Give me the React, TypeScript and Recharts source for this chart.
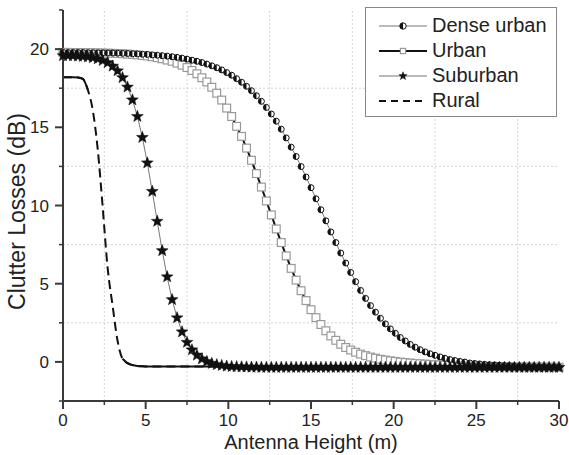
import React from 'react';
import { LineChart, Line, XAxis, YAxis, ReferenceLine, Label } from 'recharts';

const heights = [
  0, 0.3, 0.6, 0.9, 1.2, 1.5, 1.8, 2.1, 2.4, 2.7,
  3, 3.3, 3.6, 3.9, 4.2, 4.5, 4.8, 5.1, 5.4, 5.7,
  6, 6.3, 6.6, 6.9, 7.2, 7.5, 7.8, 8.1, 8.4, 8.7,
  9, 9.3, 9.6, 9.9, 10.2, 10.5, 10.8, 11.1, 11.4, 11.7,
  12, 12.3, 12.6, 12.9, 13.2, 13.5, 13.8, 14.1, 14.4, 14.7,
  15, 15.3, 15.6, 15.9, 16.2, 16.5, 16.8, 17.1, 17.4, 17.7,
  18, 18.3, 18.6, 18.9, 19.2, 19.5, 19.8, 20.1, 20.4, 20.7,
  21, 21.3, 21.6, 21.9, 22.2, 22.5, 22.8, 23.1, 23.4, 23.7,
  24, 24.3, 24.6, 24.9, 25.2, 25.5, 25.8, 26.1, 26.4, 26.7,
  27, 27.3, 27.6, 27.9, 28.2, 28.5, 28.8, 29.1, 29.4, 29.7,
  30,
];

const denseUrban = [
  19.79, 19.78, 19.78, 19.78, 19.78, 19.77, 19.77, 19.76, 19.76, 19.75,
  19.75, 19.74, 19.73, 19.72, 19.7, 19.69, 19.67, 19.66, 19.63, 19.61,
  19.58, 19.55, 19.51, 19.47, 19.42, 19.36, 19.29, 19.22, 19.14, 19.04,
  18.93, 18.81, 18.67, 18.5, 18.33, 18.11, 17.88, 17.62, 17.34, 17.02,
  16.66, 16.27, 15.85, 15.39, 14.88, 14.32, 13.73, 13.13, 12.49, 11.82,
  11.14, 10.43, 9.73, 9.02, 8.31, 7.63, 6.96, 6.32, 5.72, 5.13,
  4.57, 4.06, 3.6, 3.18, 2.79, 2.43, 2.11, 1.83, 1.56, 1.34,
  1.12, 0.94, 0.78, 0.64, 0.52, 0.42, 0.32, 0.23, 0.15, 0.09,
  0.03, -0.01, -0.07, -0.1, -0.13, -0.16, -0.18, -0.2, -0.22, -0.24,
  -0.25, -0.27, -0.28, -0.29, -0.3, -0.3, -0.31, -0.31, -0.32, -0.32,
  -0.33,
];

const urban = [
  19.79, 19.79, 19.78, 19.78, 19.78, 19.77, 19.77, 19.76, 19.75, 19.74,
  19.73, 19.72, 19.7, 19.68, 19.66, 19.63, 19.59, 19.56, 19.51, 19.45,
  19.38, 19.3, 19.22, 19.1, 18.97, 18.82, 18.63, 18.42, 18.17, 17.9,
  17.56, 17.18, 16.74, 16.23, 15.69, 15.06, 14.42, 13.67, 12.89, 12.04,
  11.18, 10.29, 9.4, 8.5, 7.63, 6.78, 5.98, 5.23, 4.55, 3.92,
  3.34, 2.83, 2.39, 1.99, 1.66, 1.38, 1.13, 0.92, 0.76, 0.62,
  0.5, 0.4, 0.31, 0.24, 0.17, 0.12, 0.07, 0.03, -0.01, -0.04,
  -0.07, -0.1, -0.12, -0.14, -0.16, -0.18, -0.19, -0.21, -0.22, -0.23,
  -0.24, -0.25, -0.26, -0.27, -0.28, -0.29, -0.29, -0.3, -0.3, -0.31,
  -0.31, -0.32, -0.32, -0.32, -0.33, -0.33, -0.33, -0.33, -0.34, -0.34,
  -0.34,
];

const suburban = [
  19.58, 19.58, 19.57, 19.55, 19.53, 19.5, 19.45, 19.38, 19.27, 19.13,
  18.91, 18.61, 18.17, 17.57, 16.75, 15.69, 14.35, 12.72, 10.9, 8.99,
  7.11, 5.44, 3.98, 2.82, 1.92, 1.25, 0.77, 0.43, 0.19, 0.02,
  -0.1, -0.18, -0.23, -0.27, -0.3, -0.31, -0.32, -0.33, -0.34, -0.34,
  -0.35, -0.35, -0.35, -0.35, -0.35, -0.35, -0.35, -0.35, -0.35, -0.35,
  -0.35, -0.35, -0.35, -0.35, -0.35, -0.35, -0.35, -0.35, -0.35, -0.35,
  -0.35, -0.35, -0.35, -0.35, -0.35, -0.35, -0.35, -0.35, -0.35, -0.35,
  -0.35, -0.35, -0.35, -0.35, -0.35, -0.35, -0.35, -0.35, -0.35, -0.35,
  -0.35, -0.35, -0.35, -0.35, -0.35, -0.35, -0.35, -0.35, -0.35, -0.35,
  -0.35, -0.35, -0.35, -0.35, -0.35, -0.35, -0.35, -0.35, -0.35, -0.35,
  -0.35,
];

const rural = [
  18.2, 18.2, 18.2, 18.19, 18.1, 17.4, 16.1, 13.6, 9.9, 6.0,
  3.6, 1.35, 0.2, -0.08, -0.2, -0.26, -0.28, -0.29, -0.3, -0.3,
  -0.3, -0.3, -0.3, -0.3, -0.3, -0.3, -0.3, -0.3, -0.3, -0.3,
  -0.3, -0.3, -0.3, -0.3, -0.3, -0.3, -0.3, -0.3, -0.3, -0.3,
  -0.3, -0.3, -0.3, -0.3, -0.3, -0.3, -0.3, -0.3, -0.3, -0.3,
  -0.3, -0.3, -0.3, -0.3, -0.3, -0.3, -0.3, -0.3, -0.3, -0.3,
  -0.3, -0.3, -0.3, -0.3, -0.3, -0.3, -0.3, -0.3, -0.3, -0.3,
  -0.3, -0.3, -0.3, -0.3, -0.3, -0.3, -0.3, -0.3, -0.3, -0.3,
  -0.3, -0.3, -0.3, -0.3, -0.3, -0.3, -0.3, -0.3, -0.3, -0.3,
  -0.3, -0.3, -0.3, -0.3, -0.3, -0.3, -0.3, -0.3, -0.3, -0.3,
  -0.3,
];

// where the rural curve looks solid rather than dashed
const ruralSolidBefore = 1.5;
const ruralSolidAfter = 3.6;

const xTicks = [0, 2.5, 5, 7.5, 10, 12.5, 15, 17.5, 20, 22.5, 25, 27.5, 30];
const yTicks = [-2.5, 0, 2.5, 5, 7.5, 10, 12.5, 15, 17.5, 20, 22.5];
const gridX = [2.5, 7.5, 12.5, 17.5, 22.5, 27.5];
const gridY = [2.5, 7.5, 12.5, 17.5];

const seriesNames = ['Dense urban', 'Urban', 'Suburban', 'Rural'];

const FONT = '"Liberation Sans", Arial, sans-serif';
const AXIS = '#3a3a3a';

const data = heights.map((h, i) => ({
  h,
  dense: denseUrban[i],
  urban: urban[i],
  suburban: suburban[i],
  rural: rural[i],
  ruralSolid: h <= ruralSolidBefore || h >= ruralSolidAfter ? rural[i] : null,
}));

const HalfDot = (props: any) => {
  const { cx, cy, r = 4.3 } = props;
  if (cx == null || cy == null) return null;
  return (
    <g>
      <circle cx={cx} cy={cy} r={r} fill="#fff" stroke="#111" strokeWidth={1} />
      <path d={`M${cx},${cy - r} A${r},${r} 0 0,0 ${cx},${cy + r} Z`} fill="#111" />
    </g>
  );
};

const SquareDot = (props: any) => {
  const { cx, cy, s = 3.9 } = props;
  if (cx == null || cy == null) return null;
  return <rect x={cx - s} y={cy - s} width={s * 2} height={s * 2} fill="#fff" stroke="#999" strokeWidth={1.2} />;
};

const StarDot = (props: any) => {
  const { cx, cy, ro = 6.2, ri = 2.6 } = props;
  if (cx == null || cy == null) return null;
  const pts: string[] = [];
  for (let k = 0; k < 10; k++) {
    const a = ((-90 + k * 36) * Math.PI) / 180;
    const r = k % 2 === 0 ? ro : ri;
    pts.push(`${cx + r * Math.cos(a)},${cy + r * Math.sin(a)}`);
  }
  return <polygon points={pts.join(' ')} fill="#111" stroke="#111" strokeWidth={0.5} />;
};

const XTick = (props: any) => {
  const { x, y, payload } = props;
  const major = payload.value % 5 === 0;
  return (
    <g>
      <line x1={x} y1={y} x2={x} y2={y + (major ? 8 : 4)} stroke={AXIS} strokeWidth={major ? 2 : 1.5} />
      {major && (
        <text x={x} y={y + 25} textAnchor="middle" fontSize={17} fontFamily={FONT} fill="#222">
          {payload.value}
        </text>
      )}
    </g>
  );
};

const YTick = (props: any) => {
  const { x, y, payload } = props;
  const major = payload.value % 5 === 0;
  return (
    <g>
      <line x1={x - (major ? 8 : 4)} y1={y} x2={x} y2={y} stroke={AXIS} strokeWidth={major ? 2 : 1.5} />
      {major && (
        <text x={x - 14} y={y} dy="0.36em" textAnchor="end" fontSize={17} fontFamily={FONT} fill="#222">
          {payload.value}
        </text>
      )}
    </g>
  );
};

const YTitle = (props: any) => {
  const vb = props.viewBox || {};
  const cx = (vb.x || 0) + 17;
  const cy = (vb.y || 0) + (vb.height || 0) / 2 + 6;
  return (
    <text
      x={cx}
      y={cy}
      dy="0.36em"
      textAnchor="middle"
      fontSize={23}
      fontFamily={FONT}
      fill="#222"
      transform={`rotate(-90, ${cx}, ${cy})`}
    >
      Clutter Losses (dB)
    </text>
  );
};

const LegendSample = ({ idx }: { idx: number }) => {
  const y = 9;
  if (idx === 3) {
    return (
      <svg width={50} height={18}>
        <line x1={1} y1={y} x2={49} y2={y} stroke="#111" strokeWidth={2} strokeDasharray="7 5" />
      </svg>
    );
  }
  const thick = idx === 1;
  return (
    <svg width={50} height={18}>
      <line x1={1} y1={y} x2={49} y2={y} stroke={thick ? '#111' : '#777'} strokeWidth={thick ? 2 : 1} />
      {idx === 0 && <HalfDot cx={25} cy={y} r={3.2} />}
      {idx === 1 && <SquareDot cx={25} cy={y} s={2.6} />}
      {idx === 2 && <StarDot cx={25} cy={y} ro={4.3} ri={1.8} />}
    </svg>
  );
};

export default function App() {
  return (
    <div style={{ position: 'absolute', left: 0, top: 0, width: 569, height: 455, background: '#fff' }}>
      <LineChart width={569} height={455} data={data} margin={{ top: 10, right: 10, left: 0, bottom: 0 }}>
        {gridX.map((v) => (
          <ReferenceLine key={`gx${v}`} x={v} stroke="#d4d4d4" strokeDasharray="2 2" strokeWidth={1} />
        ))}
        {gridY.map((v) => (
          <ReferenceLine key={`gy${v}`} y={v} stroke="#d4d4d4" strokeDasharray="2 2" strokeWidth={1} />
        ))}
        <XAxis
          dataKey="h"
          type="number"
          domain={[0, 30]}
          ticks={xTicks}
          interval={0}
          height={54}
          tickSize={0}
          tickMargin={0}
          tickLine={false}
          axisLine={{ stroke: AXIS, strokeWidth: 2 }}
          tick={<XTick />}
        >
          <Label value="Antenna Height (m)" position="insideBottom" offset={6} fontSize={20} fontFamily={FONT} fill="#222" />
        </XAxis>
        <YAxis
          type="number"
          domain={[-2.5, 22.5]}
          ticks={yTicks}
          interval={0}
          width={63}
          tickSize={0}
          tickMargin={0}
          tickLine={false}
          axisLine={{ stroke: AXIS, strokeWidth: 2 }}
          tick={<YTick />}
        >
          <Label content={<YTitle />} />
        </YAxis>
        <Line type="monotone" dataKey="rural" stroke="#111" strokeWidth={2} strokeDasharray="9 5" dot={false} isAnimationActive={false} />
        <Line type="monotone" dataKey="ruralSolid" stroke="#111" strokeWidth={2} dot={false} connectNulls={false} isAnimationActive={false} />
        <Line type="linear" dataKey="urban" stroke="#111" strokeWidth={2} dot={<SquareDot />} isAnimationActive={false} />
        <Line type="linear" dataKey="dense" stroke="#777" strokeWidth={1} dot={<HalfDot />} isAnimationActive={false} />
        <Line type="linear" dataKey="suburban" stroke="#777" strokeWidth={1} dot={<StarDot />} isAnimationActive={false} />
      </LineChart>
      <div
        style={{
          position: 'absolute',
          left: 365,
          top: 7,
          width: 190,
          height: 103,
          border: '1px solid #888',
          background: '#fff',
          boxSizing: 'content-box',
          paddingTop: 5,
          fontFamily: FONT,
          fontSize: 20,
          color: '#222',
        }}
      >
        {seriesNames.map((name, i) => (
          <div key={name} style={{ display: 'flex', alignItems: 'center', height: 25, lineHeight: '25px' }}>
            <div style={{ width: 12 }} />
            <LegendSample idx={i} />
            <span style={{ marginLeft: 4 }}>{name}</span>
          </div>
        ))}
      </div>
    </div>
  );
}
